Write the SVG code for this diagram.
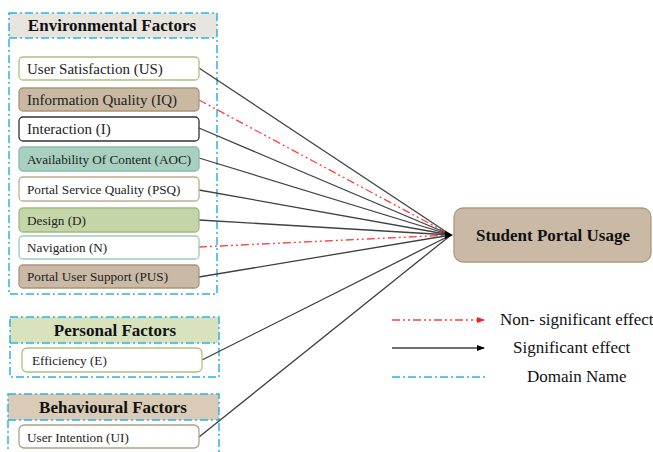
<svg xmlns="http://www.w3.org/2000/svg" width="653" height="452" viewBox="0 0 653 452" font-family="'Liberation Serif', serif">
<defs>
<style>
.dom{fill:none;stroke:#2bb3ea;stroke-width:1.5;stroke-dasharray:8 3 2 3}
.node text{font-family:'Liberation Serif', serif;font-size:13.2px;fill:#222}
.node text.big{font-size:15px}
.hd{font-family:'Liberation Serif', serif;font-size:17px;font-weight:bold;fill:#111}
.sig{stroke:#404040;stroke-width:1.3;fill:none}
.non{stroke:#ff4040;stroke-width:1.3;fill:none;stroke-dasharray:8 3 2 3 2 3}
.lg{font-family:'Liberation Serif', serif;font-size:17px;fill:#111}
</style>
<marker id="ab" markerWidth="8" markerHeight="8" refX="7" refY="4" orient="auto" markerUnits="userSpaceOnUse"><path d="M0,1 L8,4 L0,7 Z" fill="#000"/></marker>
<marker id="ar" markerWidth="8" markerHeight="8" refX="7" refY="4" orient="auto" markerUnits="userSpaceOnUse"><path d="M0,1 L8,4 L0,7 Z" fill="#ff2020"/></marker>
</defs>

<g id="domain-environmental">
<rect x="9" y="13" width="208" height="25" fill="#e8e5de"/>
<rect class="dom" x="9" y="13" width="208" height="281"/>
<line class="dom" x1="9" y1="38" x2="217" y2="38"/>
<text class="hd" x="112" y="31" text-anchor="middle">Environmental Factors</text>
</g>
<g id="domain-personal">
<rect x="10" y="317" width="209" height="26" fill="#d8e3be"/>
<rect class="dom" x="10" y="317" width="209" height="60"/>
<line class="dom" x1="10" y1="343" x2="219" y2="343"/>
<text class="hd" x="115" y="336" text-anchor="middle">Personal Factors</text>
</g>
<g id="domain-behavioural">
<rect x="8" y="394" width="211" height="26" fill="#d9cbb5"/>
<rect class="dom" x="8" y="394" width="211" height="70"/>
<line class="dom" x1="8" y1="420" x2="219" y2="420"/>
<text class="hd" x="113" y="413" text-anchor="middle">Behavioural Factors</text>
</g>

<g id="connectors">
<line class="sig" x1="199" y1="68" x2="451" y2="235"/>
<line class="non" x1="199" y1="100" x2="451" y2="235"/>
<line class="sig" x1="199" y1="128" x2="451" y2="235"/>
<line class="sig" x1="199" y1="158" x2="451" y2="235"/>
<line class="sig" x1="199" y1="190" x2="451" y2="235"/>
<line class="sig" x1="199" y1="220" x2="451" y2="235"/>
<line class="non" x1="199" y1="247" x2="451" y2="235"/>
<line class="sig" x1="199" y1="277" x2="451" y2="235"/>
<line class="sig" x1="202" y1="360" x2="451" y2="235"/>
<line class="sig" x1="199" y1="437" x2="451" y2="235"/>
<path d="M445,231 L453,235 L445,239 Z" fill="#000"/>
</g>

<g id="node-us" class="node"><rect x="19" y="57" width="180" height="23" rx="4" fill="#fff" stroke="#a9c47f" stroke-width="1.3"/><text class="big" x="27" y="74">User Satisfaction (US)</text></g>
<g id="node-iq" class="node"><rect x="19" y="88" width="180" height="23" rx="4" fill="#c9b9a3" stroke="#a8957a" stroke-width="1.3"/><text class="big" x="27" y="105">Information Quality (IQ)</text></g>
<g id="node-i" class="node"><rect x="19" y="117" width="180" height="24" rx="4" fill="#fff" stroke="#333" stroke-width="1.3"/><text class="big" x="27" y="134">Interaction (I)</text></g>
<g id="node-aoc" class="node"><rect x="19" y="147" width="180" height="24" rx="4" fill="#a8d0c0" stroke="#88bba8" stroke-width="1.3"/><text x="27" y="164">Availability Of Content (AOC)</text></g>
<g id="node-psq" class="node"><rect x="19" y="177" width="180" height="24" rx="4" fill="#fff" stroke="#c2ad8e" stroke-width="1.3"/><text x="27" y="194">Portal Service Quality (PSQ)</text></g>
<g id="node-d" class="node"><rect x="19" y="208" width="180" height="24" rx="4" fill="#c4d5a8" stroke="#a0ba7a" stroke-width="1.3"/><text x="27" y="225">Design (D)</text></g>
<g id="node-n" class="node"><rect x="19" y="236" width="180" height="23" rx="4" fill="#fff" stroke="#9ccbba" stroke-width="1.3"/><text x="27" y="252">Navigation (N)</text></g>
<g id="node-pus" class="node"><rect x="19" y="265" width="180" height="23" rx="4" fill="#c9b9a5" stroke="#a8957a" stroke-width="1.3"/><text x="27" y="281">Portal User Support (PUS)</text></g>
<g id="node-e" class="node"><rect x="22" y="348" width="180" height="24" rx="5" fill="#fff" stroke="#a9c47f" stroke-width="1.3"/><text x="32" y="365">Efficiency (E)</text></g>
<g id="node-ui" class="node"><rect x="19" y="425" width="180" height="23" rx="5" fill="#fff" stroke="#b39e80" stroke-width="1.3"/><text x="27" y="442">User Intention (UI)</text></g>

<g id="node-spu"><rect x="454" y="208" width="197" height="54" rx="9" fill="#c9b9a5" stroke="#ad9a7c" stroke-width="1.3"/><text class="hd" x="553" y="241" text-anchor="middle">Student Portal Usage</text></g>

<g id="legend">
<line class="non" x1="392" y1="320" x2="484" y2="320" marker-end="url(#ar)"/>
<text class="lg" x="500" y="325">Non- significant effect</text>
<line class="sig" x1="392" y1="348" x2="484" y2="348" stroke="#000" marker-end="url(#ab)"/>
<text class="lg" x="513" y="353">Significant effect</text>
<line class="dom" x1="392" y1="377" x2="487" y2="377"/>
<text class="lg" x="527" y="382">Domain Name</text>
</g>
</svg>
